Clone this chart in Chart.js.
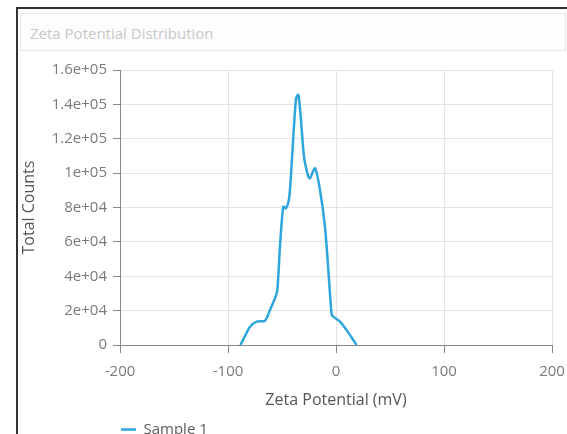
<!DOCTYPE html>
<html>
<head>
<meta charset="utf-8">
<script src="https://cdn.jsdelivr.net/npm/chart.js@4"></script>
<style>
  html, body { margin: 0; padding: 0; width: 567px; height: 434px; overflow: hidden; background: #fff; }
  #frame { position: absolute; left: 16px; top: 7px; width: 560px; height: 440px; border-top: 2px solid #333; border-left: 2px solid #333; }
  #header { position: absolute; left: 20px; top: 13px; width: 544px; height: 36px; border: 1px solid #e8e8e8; background: #fdfdfd; }
  #title { position: absolute; left: 30px; top: 23px; line-height: 20px; font: 15px "Open Sans", "Noto Sans", sans-serif; color: #c8c8c8; white-space: nowrap; }
  #wrap { position: absolute; left: 0; top: 0; width: 582px; height: 447px; }
</style>
</head>
<body>
<div id="frame"></div>
<div id="header"></div>
<div id="title">Zeta Potential Distribution</div>
<div id="wrap"><canvas id="c" width="582" height="447"></canvas></div>
<script>
// Data
const zetaPotential = [-88.5, -84, -79.6, -73.4, -65.7, -61.1, -56.5, -54.3, -51.9, -48.8, -46.3, -43.2, -40.1, -37.0, -34.9, -32.7, -29.6, -25.6, -24.1, -19.4, -14.8, -10.2, -7.1, -4.0, -2.5, 3.7, 10, 16, 19];
const totalCounts   = [0, 5500, 10600, 13600, 14100, 20400, 27200, 32000, 57200, 80500, 79500, 86300, 115000, 143500, 145500, 133000, 109500, 97900, 97000, 102800, 90000, 68800, 43600, 17500, 16500, 13600, 8500, 2900, 0];
const seriesName = 'Sample 1';
const yTickValues = [0, 20000, 40000, 60000, 80000, 100000, 120000, 140000, 160000];
const yTickLabels = ['0', '2e+04', '4e+04', '6e+04', '8e+04', '1e+05', '1.2e+05', '1.4e+05', '1.6e+05'];
const xTickValues = [-200, -100, 0, 100, 200];
const xTickLabels = ['-200', '-100', '0', '100', '200'];

const points = zetaPotential.map((x, i) => ({ x: x, y: totalCounts[i] }));
const FONT = '"Open Sans", "Noto Sans", sans-serif';
const lineColor = '#2ea6dc';

new Chart(document.getElementById('c'), {
  type: 'line',
  data: {
    datasets: [{
      label: seriesName,
      data: points,
      borderColor: lineColor,
      backgroundColor: lineColor,
      borderWidth: 2.5,
      pointRadius: 0,
      tension: 0.25,
      fill: false
    }]
  },
  options: {
    responsive: false,
    animation: false,
    layout: { padding: { top: 70, left: 20, right: 30, bottom: 0 } },
    plugins: {
      title: { display: false },
      tooltip: { enabled: false },
      legend: {
        display: true,
        position: 'bottom',
        align: 'start',
        fullSize: false,
        labels: {
          boxWidth: 15,
          boxHeight: 0,
          padding: 1,
          color: '#5a5a5a',
          font: { family: FONT, size: 15 }
        }
      }
    },
    scales: {
      x: {
        type: 'linear',
        min: -200, max: 200,
        afterFit: s => { s.height = 76; },
        afterBuildTicks: s => { s.ticks = xTickValues.map(v => ({ value: v })); },
        ticks: {
          padding: 10,
          color: '#7a7a7a',
          font: { family: FONT, size: 15 },
          maxRotation: 0,
          callback: v => xTickLabels[xTickValues.indexOf(v)] ?? ''
        },
        grid: { color: '#e4e4e4', tickColor: '#888', tickLength: 8, drawTicks: true },
        border: { display: true, color: '#888', width: 1 },
        title: {
          display: true,
          text: 'Zeta Potential (mV)',
          color: '#555',
          font: { family: FONT, size: 16 },
          padding: { top: 4, bottom: 11 }
        }
      },
      y: {
        type: 'linear',
        min: 0, max: 160000,
        afterFit: s => { s.width = 100; },
        afterBuildTicks: s => { s.ticks = yTickValues.map(v => ({ value: v })); },
        ticks: {
          padding: 6,
          color: '#7a7a7a',
          font: { family: FONT, size: 15 },
          callback: v => yTickLabels[yTickValues.indexOf(v)] ?? ''
        },
        grid: { color: '#e4e4e4', tickColor: '#888', tickLength: 7, drawTicks: true },
        border: { display: true, color: '#888', width: 1 },
        title: {
          display: true,
          text: 'Total Counts',
          color: '#555',
          font: { family: FONT, size: 16 },
          padding: { top: 0, bottom: 4 }
        }
      }
    }
  }
});
</script>
</body>
</html>
